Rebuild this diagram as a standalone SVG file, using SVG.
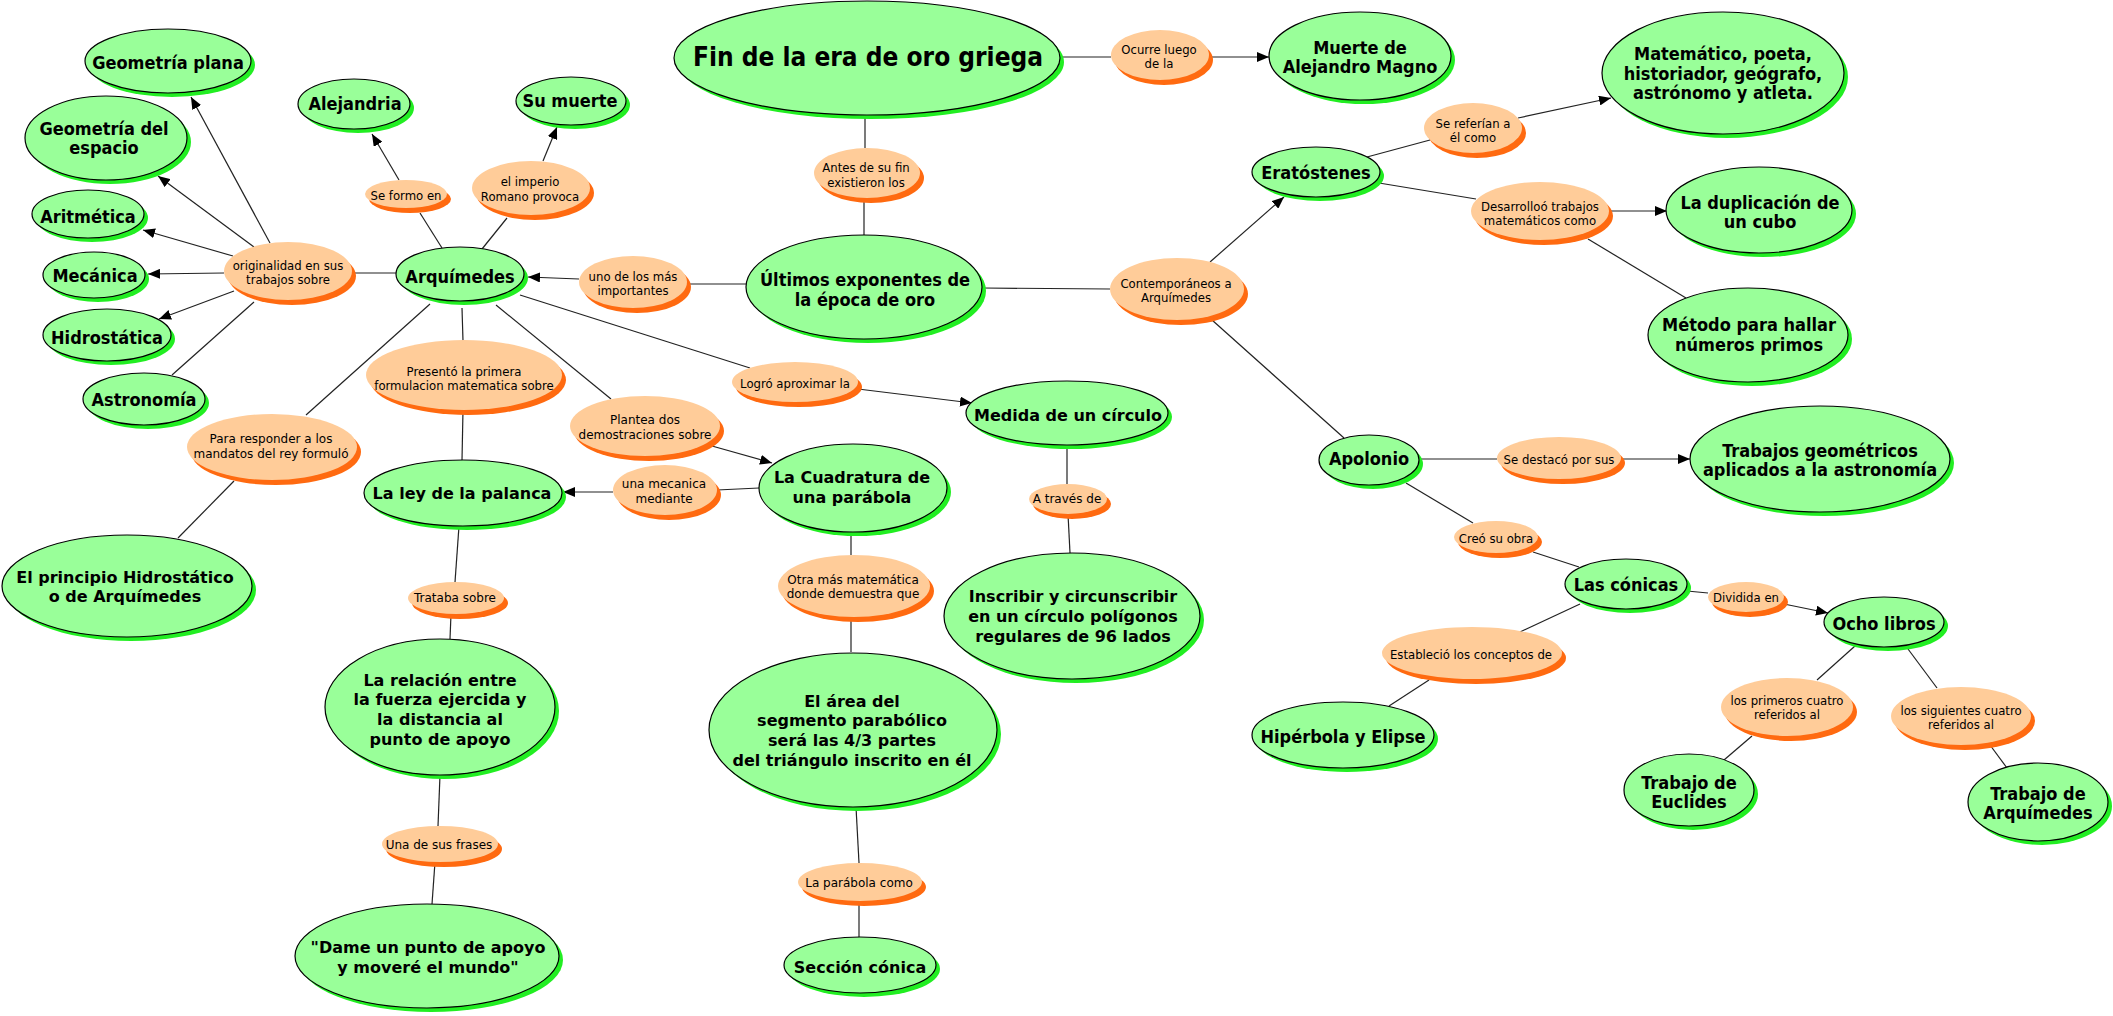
<svg xmlns="http://www.w3.org/2000/svg" width="2113" height="1016" viewBox="0 0 2113 1016">
<style>
.g{fill:#99FF99;stroke:#000;stroke-width:1.2}
.gs{fill:#22EE22}
.o{fill:#FFCC99}
.os{fill:#FF6A10}
#connectors line{stroke:#222;stroke-width:1.2;fill:none}
#connectors line.a{marker-end:url(#arr)}
text{fill:#000;text-anchor:middle;dominant-baseline:central}
.tn{font-family:"DejaVu Sans Condensed","DejaVu Sans",sans-serif;font-stretch:condensed;font-weight:bold;font-size:18px}
.tno{font-family:"DejaVu Sans Condensed","DejaVu Sans",sans-serif;font-stretch:condensed;font-size:13px}
.tv{font-family:"DejaVu Sans",Verdana,sans-serif;font-weight:bold;font-size:16px}
.tvo{font-family:"DejaVu Sans",Verdana,sans-serif;font-size:12px}
</style>
<defs>
<marker id="arr" markerUnits="userSpaceOnUse" markerWidth="13" markerHeight="10" refX="12" refY="5" orient="auto">
<path d="M0,0 L12,5 L0,10 z" fill="#000"/>
</marker>
</defs>
<rect width="2113" height="1016" fill="#fff"/>
<g id="connectors">
<line class="a" x1="270" y1="243" x2="191" y2="97"/>
<line class="a" x1="254" y1="247" x2="158" y2="176"/>
<line class="a" x1="233" y1="256" x2="143" y2="230"/>
<line class="a" x1="224" y1="273" x2="148" y2="274"/>
<line class="a" x1="234" y1="291" x2="159" y2="319"/>
<line x1="254" y1="302" x2="172" y2="375"/>
<line x1="352" y1="273" x2="396" y2="273"/>
<line x1="442" y1="248" x2="420" y2="213"/>
<line class="a" x1="399" y1="180" x2="372" y2="134"/>
<line x1="482" y1="249" x2="507" y2="218"/>
<line class="a" x1="543" y1="161" x2="557" y2="127"/>
<line class="a" x1="579" y1="279" x2="528" y2="277"/>
<line x1="687" y1="284" x2="746" y2="284"/>
<line x1="462" y1="308" x2="463" y2="341"/>
<line x1="463" y1="410" x2="462" y2="460"/>
<line x1="496" y1="305" x2="611" y2="399"/>
<line x1="430" y1="304" x2="306" y2="415"/>
<line x1="234" y1="481" x2="178" y2="538"/>
<line x1="520" y1="295" x2="750" y2="368"/>
<line class="a" x1="858" y1="389" x2="972" y2="403"/>
<line x1="865" y1="115" x2="865" y2="148"/>
<line x1="864" y1="198" x2="864" y2="235"/>
<line x1="1060" y1="57" x2="1111" y2="57"/>
<line class="a" x1="1209" y1="57" x2="1269" y2="57"/>
<line x1="983" y1="288" x2="1110" y2="289"/>
<line class="a" x1="1210" y1="262" x2="1284" y2="197"/>
<line x1="1212" y1="320" x2="1344" y2="438"/>
<line x1="1367" y1="157" x2="1430" y2="140"/>
<line class="a" x1="1518" y1="118" x2="1611" y2="98"/>
<line x1="1379" y1="183" x2="1476" y2="199"/>
<line class="a" x1="1610" y1="211" x2="1667" y2="211"/>
<line x1="1588" y1="239" x2="1686" y2="298"/>
<line x1="1419" y1="459" x2="1497" y2="459"/>
<line class="a" x1="1622" y1="459" x2="1690" y2="459"/>
<line x1="1406" y1="483" x2="1473" y2="523"/>
<line x1="1533" y1="552" x2="1579" y2="567"/>
<line x1="1687" y1="591" x2="1708" y2="593"/>
<line class="a" x1="1784" y1="604" x2="1828" y2="613"/>
<line x1="1580" y1="604" x2="1520" y2="632"/>
<line x1="1429" y1="680" x2="1389" y2="706"/>
<line x1="1855" y1="646" x2="1817" y2="680"/>
<line x1="1752" y1="736" x2="1724" y2="760"/>
<line x1="1908" y1="649" x2="1937" y2="688"/>
<line x1="1990" y1="745" x2="2007" y2="768"/>
<line class="a" x1="613" y1="492" x2="563" y2="492"/>
<line x1="759" y1="488" x2="717" y2="490"/>
<line class="a" x1="712" y1="446" x2="772" y2="463"/>
<line x1="851" y1="532" x2="851" y2="555"/>
<line x1="851" y1="617" x2="851" y2="652"/>
<line x1="856" y1="807" x2="859" y2="863"/>
<line x1="859" y1="901" x2="859" y2="938"/>
<line x1="1067" y1="445" x2="1067" y2="484"/>
<line x1="1068" y1="514" x2="1070" y2="553"/>
<line x1="459" y1="526" x2="455" y2="582"/>
<line x1="451" y1="614" x2="450" y2="639"/>
<line x1="440" y1="775" x2="438" y2="826"/>
<line x1="435" y1="862" x2="432" y2="904"/>
</g>
<g id="nodes">
<g id="n-geoplana"><ellipse class="gs" cx="172" cy="65" rx="83" ry="32"/><ellipse class="g" cx="168" cy="61" rx="83" ry="32"/><text class="tn" x="168" y="62">Geometría plana</text></g>
<g id="n-geoesp"><ellipse class="gs" cx="110" cy="142" rx="81" ry="42"/><ellipse class="g" cx="106" cy="138" rx="81" ry="42"/><text class="tn"><tspan x="104" y="128">Geometría del</tspan><tspan x="104" y="147">espacio</tspan></text></g>
<g id="n-aritm"><ellipse class="gs" cx="92" cy="218" rx="56" ry="24"/><ellipse class="g" cx="88" cy="214" rx="56" ry="24"/><text class="tn" x="88" y="216">Aritmética</text></g>
<g id="n-mecan"><ellipse class="gs" cx="98" cy="279" rx="51" ry="23"/><ellipse class="g" cx="94" cy="275" rx="51" ry="23"/><text class="tn" x="95" y="275">Mecánica</text></g>
<g id="n-hidro"><ellipse class="gs" cx="111" cy="339" rx="64" ry="26"/><ellipse class="g" cx="107" cy="335" rx="64" ry="26"/><text class="tn" x="107" y="337">Hidrostática</text></g>
<g id="n-astro"><ellipse class="gs" cx="148" cy="403" rx="61" ry="26"/><ellipse class="g" cx="144" cy="399" rx="61" ry="26"/><text class="tn" x="144" y="399">Astronomía</text></g>
<g id="n-alej"><ellipse class="gs" cx="358" cy="108" rx="56" ry="25"/><ellipse class="g" cx="354" cy="104" rx="56" ry="25"/><text class="tn" x="355" y="103">Alejandria</text></g>
<g id="n-sumuerte"><ellipse class="gs" cx="575" cy="105" rx="55" ry="24"/><ellipse class="g" cx="571" cy="101" rx="55" ry="24"/><text class="tn" x="570" y="100">Su muerte</text></g>
<g id="n-arqui"><ellipse class="gs" cx="464" cy="278" rx="64" ry="27"/><ellipse class="g" cx="460" cy="274" rx="64" ry="27"/><text class="tn" x="460" y="276">Arquímedes</text></g>
<g id="n-fin"><ellipse class="gs" cx="871" cy="62" rx="193" ry="57"/><ellipse class="g" cx="867" cy="58" rx="193" ry="57"/><text class="tn" style="font-size:26px" x="868" y="57">Fin de la era de oro griega</text></g>
<g id="n-muerte"><ellipse class="gs" cx="1364" cy="60" rx="91" ry="44"/><ellipse class="g" cx="1360" cy="56" rx="91" ry="44"/><text class="tn"><tspan x="1360" y="47">Muerte de</tspan><tspan x="1360" y="66">Alejandro Magno</tspan></text></g>
<g id="n-ultimos"><ellipse class="gs" cx="868" cy="291" rx="118" ry="52"/><ellipse class="g" cx="864" cy="287" rx="118" ry="52"/><text class="tn"><tspan x="865" y="279">Últimos exponentes de</tspan><tspan x="865" y="299">la época de oro</tspan></text></g>
<g id="n-erat"><ellipse class="gs" cx="1320" cy="176" rx="64" ry="25"/><ellipse class="g" cx="1316" cy="172" rx="64" ry="25"/><text class="tn" x="1316" y="172">Eratóstenes</text></g>
<g id="n-matem"><ellipse class="gs" cx="1727" cy="77" rx="121" ry="61"/><ellipse class="g" cx="1723" cy="73" rx="121" ry="61"/><text class="tn"><tspan x="1723" y="53">Matemático, poeta,</tspan><tspan x="1723" y="73">historiador, geógrafo,</tspan><tspan x="1723" y="92">astrónomo y atleta.</tspan></text></g>
<g id="n-dupli"><ellipse class="gs" cx="1763" cy="214" rx="93" ry="43"/><ellipse class="g" cx="1759" cy="210" rx="93" ry="43"/><text class="tn"><tspan x="1760" y="202">La duplicación de</tspan><tspan x="1760" y="221">un cubo</tspan></text></g>
<g id="n-metodo"><ellipse class="gs" cx="1752" cy="339" rx="100" ry="47"/><ellipse class="g" cx="1748" cy="335" rx="100" ry="47"/><text class="tn"><tspan x="1749" y="324">Método para hallar</tspan><tspan x="1749" y="344">números primos</tspan></text></g>
<g id="n-trabgeo"><ellipse class="gs" cx="1824" cy="463" rx="130" ry="53"/><ellipse class="g" cx="1820" cy="459" rx="130" ry="53"/><text class="tn"><tspan x="1820" y="450">Trabajos geométricos</tspan><tspan x="1820" y="469">aplicados a la astronomía</tspan></text></g>
<g id="n-apol"><ellipse class="gs" cx="1373" cy="464" rx="50" ry="25"/><ellipse class="g" cx="1369" cy="460" rx="50" ry="25"/><text class="tn" x="1369" y="458">Apolonio</text></g>
<g id="n-conicas"><ellipse class="gs" cx="1630" cy="588" rx="61" ry="25"/><ellipse class="g" cx="1626" cy="584" rx="61" ry="25"/><text class="tn" x="1626" y="584">Las cónicas</text></g>
<g id="n-ocho"><ellipse class="gs" cx="1888" cy="626" rx="60" ry="25"/><ellipse class="g" cx="1884" cy="622" rx="60" ry="25"/><text class="tn" x="1884" y="623">Ocho libros</text></g>
<g id="n-euclides"><ellipse class="gs" cx="1693" cy="794" rx="65" ry="36"/><ellipse class="g" cx="1689" cy="790" rx="65" ry="36"/><text class="tn"><tspan x="1689" y="782">Trabajo de</tspan><tspan x="1689" y="801">Euclides</tspan></text></g>
<g id="n-trabarq"><ellipse class="gs" cx="2042" cy="806" rx="70" ry="39"/><ellipse class="g" cx="2038" cy="802" rx="70" ry="39"/><text class="tn"><tspan x="2038" y="793">Trabajo de</tspan><tspan x="2038" y="812">Arquímedes</tspan></text></g>
<g id="n-hiper"><ellipse class="gs" cx="1347" cy="739" rx="91" ry="33"/><ellipse class="g" cx="1343" cy="735" rx="91" ry="33"/><text class="tn" x="1343" y="736">Hipérbola y Elipse</text></g>
<g id="n-principio"><ellipse class="gs" cx="131" cy="590" rx="125" ry="51"/><ellipse class="g" cx="127" cy="586" rx="125" ry="51"/><text class="tv"><tspan x="125" y="577">El principio Hidrostático</tspan><tspan x="125" y="596">o de Arquímedes</tspan></text></g>
<g id="n-ley"><ellipse class="gs" cx="467" cy="497" rx="99" ry="33"/><ellipse class="g" cx="463" cy="493" rx="99" ry="33"/><text class="tv" x="462" y="493">La ley de la palanca</text></g>
<g id="n-relacion"><ellipse class="gs" cx="444" cy="711" rx="115" ry="68"/><ellipse class="g" cx="440" cy="707" rx="115" ry="68"/><text class="tv"><tspan x="440" y="680">La relación entre</tspan><tspan x="440" y="699">la fuerza ejercida y</tspan><tspan x="440" y="719">la distancia al</tspan><tspan x="440" y="739">punto de apoyo</tspan></text></g>
<g id="n-dame"><ellipse class="gs" cx="431" cy="960" rx="132" ry="52"/><ellipse class="g" cx="427" cy="956" rx="132" ry="52"/><text class="tv"><tspan x="428" y="947">"Dame un punto de apoyo</tspan><tspan x="428" y="967">y moveré el mundo"</tspan></text></g>
<g id="n-cuadratura"><ellipse class="gs" cx="857" cy="492" rx="94" ry="44"/><ellipse class="g" cx="853" cy="488" rx="94" ry="44"/><text class="tv"><tspan x="852" y="477">La Cuadratura de</tspan><tspan x="852" y="497">una parábola</tspan></text></g>
<g id="n-area"><ellipse class="gs" cx="857" cy="734" rx="144" ry="77"/><ellipse class="g" cx="853" cy="730" rx="144" ry="77"/><text class="tv"><tspan x="852" y="701">El área del</tspan><tspan x="852" y="720">segmento parabólico</tspan><tspan x="852" y="740">será las 4/3 partes</tspan><tspan x="852" y="760">del triángulo inscrito en él</tspan></text></g>
<g id="n-seccion"><ellipse class="gs" cx="864" cy="969" rx="76" ry="28"/><ellipse class="g" cx="860" cy="965" rx="76" ry="28"/><text class="tv" x="860" y="967">Sección cónica</text></g>
<g id="n-medida"><ellipse class="gs" cx="1071" cy="417" rx="101" ry="32"/><ellipse class="g" cx="1067" cy="413" rx="101" ry="32"/><text class="tv" x="1068" y="415">Medida de un círculo</text></g>
<g id="n-inscribir"><ellipse class="gs" cx="1076" cy="620" rx="128" ry="63"/><ellipse class="g" cx="1072" cy="616" rx="128" ry="63"/><text class="tv"><tspan x="1073" y="596">Inscribir y circunscribir</tspan><tspan x="1073" y="616">en un círculo polígonos</tspan><tspan x="1073" y="636">regulares de 96 lados</tspan></text></g>
<g id="l-originalidad"><ellipse class="os" cx="292" cy="276" rx="64" ry="29"/><ellipse class="o" cx="288" cy="271" rx="64" ry="29"/><text class="tno"><tspan x="288" y="265">originalidad en sus</tspan><tspan x="288" y="279">trabajos sobre</tspan></text></g>
<g id="l-seformo"><ellipse class="os" cx="410" cy="199" rx="41" ry="14"/><ellipse class="o" cx="406" cy="194" rx="41" ry="14"/><text class="tno" x="406" y="195">Se formo en</text></g>
<g id="l-imperio"><ellipse class="os" cx="535" cy="193" rx="59" ry="27"/><ellipse class="o" cx="531" cy="188" rx="59" ry="27"/><text class="tno"><tspan x="530" y="181">el imperio</tspan><tspan x="530" y="196">Romano provoca</tspan></text></g>
<g id="l-unodelos"><ellipse class="os" cx="637" cy="287" rx="54" ry="26"/><ellipse class="o" cx="633" cy="282" rx="54" ry="26"/><text class="tno"><tspan x="633" y="276">uno de los más</tspan><tspan x="633" y="290">importantes</tspan></text></g>
<g id="l-presento"><ellipse class="os" cx="468" cy="380" rx="98" ry="35"/><ellipse class="o" cx="464" cy="375" rx="98" ry="35"/><text class="tno"><tspan x="464" y="371">Presentó la primera</tspan><tspan x="464" y="385">formulacion matematica sobre</tspan></text></g>
<g id="l-antes"><ellipse class="os" cx="871" cy="178" rx="53" ry="25"/><ellipse class="o" cx="867" cy="173" rx="53" ry="25"/><text class="tno"><tspan x="866" y="167">Antes de su fin</tspan><tspan x="866" y="182">existieron los</tspan></text></g>
<g id="l-ocurre"><ellipse class="os" cx="1164" cy="60" rx="49" ry="25"/><ellipse class="o" cx="1160" cy="55" rx="49" ry="25"/><text class="tno"><tspan x="1159" y="49">Ocurre luego</tspan><tspan x="1159" y="63">de la</tspan></text></g>
<g id="l-contemp"><ellipse class="os" cx="1181" cy="294" rx="67" ry="31"/><ellipse class="o" cx="1177" cy="289" rx="67" ry="31"/><text class="tno"><tspan x="1176" y="283">Contemporáneos a</tspan><tspan x="1176" y="297">Arquímedes</tspan></text></g>
<g id="l-logro"><ellipse class="os" cx="799" cy="387" rx="63" ry="20"/><ellipse class="o" cx="795" cy="382" rx="63" ry="20"/><text class="tno" x="795" y="383">Logró aproximar la</text></g>
<g id="l-referian"><ellipse class="os" cx="1477" cy="133" rx="49" ry="25"/><ellipse class="o" cx="1473" cy="128" rx="49" ry="25"/><text class="tno"><tspan x="1473" y="123">Se referían a</tspan><tspan x="1473" y="137">él como</tspan></text></g>
<g id="l-desarrollo"><ellipse class="os" cx="1544" cy="216" rx="69" ry="29"/><ellipse class="o" cx="1540" cy="211" rx="69" ry="29"/><text class="tno"><tspan x="1540" y="206">Desarrolloó trabajos</tspan><tspan x="1540" y="220">matemáticos como</tspan></text></g>
<g id="l-destaco"><ellipse class="os" cx="1563" cy="463" rx="62" ry="21"/><ellipse class="o" cx="1559" cy="458" rx="62" ry="21"/><text class="tno" x="1559" y="459">Se destacó por sus</text></g>
<g id="l-creo"><ellipse class="os" cx="1500" cy="542" rx="42" ry="16"/><ellipse class="o" cx="1496" cy="537" rx="42" ry="16"/><text class="tno" x="1496" y="538">Creó su obra</text></g>
<g id="l-dividida"><ellipse class="os" cx="1750" cy="602" rx="38" ry="15"/><ellipse class="o" cx="1746" cy="597" rx="38" ry="15"/><text class="tno" x="1746" y="597">Dividida en</text></g>
<g id="l-establecio"><ellipse class="os" cx="1476" cy="658" rx="90" ry="26"/><ellipse class="o" cx="1472" cy="653" rx="90" ry="26"/><text class="tno" x="1471" y="654">Estableció los conceptos de</text></g>
<g id="l-primeros"><ellipse class="os" cx="1791" cy="712" rx="66" ry="29"/><ellipse class="o" cx="1787" cy="707" rx="66" ry="29"/><text class="tno"><tspan x="1787" y="700">los primeros cuatro</tspan><tspan x="1787" y="714">referidos al</tspan></text></g>
<g id="l-siguientes"><ellipse class="os" cx="1965" cy="721" rx="70" ry="29"/><ellipse class="o" cx="1961" cy="716" rx="70" ry="29"/><text class="tno"><tspan x="1961" y="710">los siguientes cuatro</tspan><tspan x="1961" y="724">referidos al</tspan></text></g>
<g id="l-pararesp"><ellipse class="os" cx="276" cy="452" rx="85" ry="33"/><ellipse class="o" cx="272" cy="447" rx="85" ry="33"/><text class="tvo"><tspan x="271" y="439">Para responder a los</tspan><tspan x="271" y="454">mandatos del rey formuló</tspan></text></g>
<g id="l-plantea"><ellipse class="os" cx="649" cy="431" rx="75" ry="30"/><ellipse class="o" cx="645" cy="426" rx="75" ry="30"/><text class="tvo"><tspan x="645" y="420">Plantea dos</tspan><tspan x="645" y="435">demostraciones sobre</tspan></text></g>
<g id="l-mecanica"><ellipse class="os" cx="669" cy="495" rx="52" ry="25"/><ellipse class="o" cx="665" cy="490" rx="52" ry="25"/><text class="tvo"><tspan x="664" y="484">una mecanica</tspan><tspan x="664" y="499">mediante</tspan></text></g>
<g id="l-trataba"><ellipse class="os" cx="460" cy="603" rx="48" ry="16"/><ellipse class="o" cx="456" cy="598" rx="48" ry="16"/><text class="tvo" x="455" y="598">Trataba sobre</text></g>
<g id="l-unadesus"><ellipse class="os" cx="444" cy="849" rx="58" ry="18"/><ellipse class="o" cx="440" cy="844" rx="58" ry="18"/><text class="tvo" x="439" y="845">Una de sus frases</text></g>
<g id="l-otra"><ellipse class="os" cx="858" cy="591" rx="76" ry="31"/><ellipse class="o" cx="854" cy="586" rx="76" ry="31"/><text class="tvo"><tspan x="853" y="580">Otra más matemática</tspan><tspan x="853" y="594">donde demuestra que</tspan></text></g>
<g id="l-parabola"><ellipse class="os" cx="864" cy="887" rx="62" ry="19"/><ellipse class="o" cx="860" cy="882" rx="62" ry="19"/><text class="tvo" x="859" y="883">La parábola como</text></g>
<g id="l-atraves"><ellipse class="os" cx="1072" cy="504" rx="39" ry="15"/><ellipse class="o" cx="1068" cy="499" rx="39" ry="15"/><text class="tvo" x="1067" y="499">A través de</text></g>
</g>
</svg>
